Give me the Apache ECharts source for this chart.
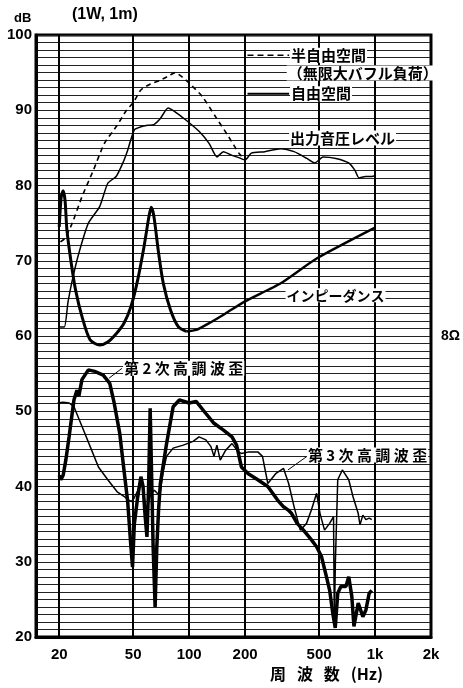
<!DOCTYPE html>
<html><head><meta charset="utf-8">
<script src="https://cdn.jsdelivr.net/npm/echarts@6/dist/echarts.min.js"></script>
<style>html,body{margin:0;padding:0;background:#fff}#c{width:463px;height:688px}</style>
</head><body><div id="c"></div>
<script>
// ---- tick labels ----
const xTickValues = [20, 50, 100, 200, 500, 1000, 2000];
const xTickLabels = {20:'20', 50:'50', 100:'100', 200:'200', 500:'500', 1000:'1k', 2000:'2k'};

// ---- series data [Hz, dB] ----
const halfSpace = [[20.3,72.5],[21.5,73],[23.5,75],[26.5,78.5],[30.5,82],[35,85.6],[41,88],[46,90],[50,91],[55,92.7],[62,93.5],[70,94],[78,94.6],[84,95],[92,94.4],[100,93.6],[118,91.8],[139,89.1],[163,86.5],[185,84.3],[200,83.4]];
const freeSpace = [[20,61.2],[21.3,61.2],[22.3,64.5],[23.5,67.4],[25.5,71],[28.7,75],[33,77.2],[36.5,80.3],[40.5,81.2],[44,83],[46.7,84.7],[50.7,87.4],[55,87.8],[60,88],[64.6,88.1],[70,88.9],[77,90.3],[84,89.8],[96,88.7],[113,87.2],[128,85.6],[141,83.8],[153,84.5],[170,84],[185,83.7],[200,83.4],[216,84.3],[255,84.5],[311,84.9],[367,84.5],[430,83.6],[475,83],[525,83.8],[616,83.6],[722,83],[780,82],[820,81],[890,81.2],[960,81.2],[1000,81.3]];
const impedanceLow = [[20,74.5],[20.5,78.5],[21,79.3],[21.5,78],[22,74.1],[23.2,69.7],[24.5,66.1],[26.5,62.6],[29.3,59.5],[33,58.8],[36.5,59.2],[40.5,60.3],[44.6,61.7],[48.6,63.9],[52.8,67.4],[57.2,71.9],[60.8,75.9],[62.5,77.1],[64.6,75.9],[68.5,71],[72.6,67],[79.3,63.5],[87.6,61.2],[96.4,60.6]];
const impedanceHigh = [[96.4,60.6],[109,60.8],[128,61.7],[157,63],[200,64.6],[311,67],[485,70.3],[1000,74.4]];
const harmonic2 = [[20,41.5],[20.4,40.9],[21,41.5],[21.7,43.5],[22.6,46.6],[24,51.5],[24.9,52.8],[25.5,52],[26.5,54.2],[28.7,55.5],[31,55.3],[34.5,54.8],[37.4,53.7],[39.5,51.1],[42.3,47.1],[44.6,42.2],[46.7,38],[48.6,32],[49.6,29.3],[50.7,35],[52.8,38.5],[55,41.3],[56.5,40],[58,36],[59.3,33.3],[60.5,40],[61.7,50.4],[62.5,44],[64,32],[65.6,24],[67,32],[68.5,37],[70,40.4],[75.6,45.7],[82,50.6],[88.6,51.5],[100,51.1],[109,51.3],[123,49.7],[136,48.4],[153,47.5],[170,46.6],[180,45.5],[191,42.6],[208,41.7],[234,40.9],[265,40],[299,38.2],[322,37.3],[340,36.9],[356,36.4],[381,35.1],[412,34.2],[455,32.9],[485,32],[515,30.7],[548,28],[570,26.2],[593,23.1],[611,21.2],[630,25.8],[655,26.7],[697,26.7],[722,28],[750,25.4],[770,21.4],[812,24.5],[860,22.7],[893,23.6],[930,25.8],[960,26.2]];
const harmonic3 = [[19.6,51.1],[21,51.2],[22.6,51.1],[24,50.6],[26.5,48],[29.8,44.9],[32.5,42.6],[36.5,40.9],[41,39.3],[44.6,38.7],[47,38.2],[49,38],[50.7,38.5],[53,39.5],[55,41],[56.5,39.5],[58.5,37],[60,37.5],[62,39],[65,39.5],[68,39],[70,39.3],[72.5,42],[75.6,44],[82,45.1],[93,45.5],[105,46],[113,46.6],[123,46.2],[131,45.3],[136,44],[141,45.5],[147,43.5],[157,44.8],[170,45.7],[184,44.6],[191,44.4],[210,44.6],[234,44.6],[248,44],[265,40.4],[292,41.7],[322,42.4],[343,40.4],[367,37.3],[396,34.2],[428,35.1],[455,36.9],[485,39.1],[506,36.4],[535,34.2],[570,35.1],[598,36],[604,22],[612,30],[630,40.9],[667,42.2],[722,40.9],[760,38.7],[812,36.4],[830,34.9],[860,36.2],[893,35.6],[930,35.8],[960,35.6]];

const numFont = 'Liberation Sans';
const jpFont = '"Noto Sans CJK JP"';

const option = {
  animation: false,
  backgroundColor: '#fff',
  grid: {left: 36, right: 27, top: 35, bottom: 51, show: true, borderColor: '#000', borderWidth: 3},
  xAxis: {
    type: 'log', logBase: 10, min: 15, max: 2000,
    axisLine: {show: true, lineStyle: {color: '#000', width: 3}},
    axisTick: {show: false, customValues: xTickValues},
    axisLabel: {customValues: xTickValues, formatter: v => xTickLabels[Math.round(v)] || '', color: '#000', fontFamily: numFont, fontSize: 15, fontWeight: 'bold', margin: 10},
    splitLine: {show: true, lineStyle: {color: '#000', width: 2}}
  },
  yAxis: [{
    type: 'value', min: 20, max: 100, interval: 1,
    axisLine: {show: true, lineStyle: {color: '#000', width: 3}},
    axisTick: {show: false},
    axisLabel: {formatter: v => (v % 10 === 0 ? String(v) : ''), color: '#000', fontFamily: numFont, fontSize: 15, fontWeight: 'bold', margin: 4},
    splitLine: {show: true, lineStyle: {color: '#222', width: 1}}
  }, {
    type: 'value', min: 20, max: 100, interval: 10, position: 'right',
    axisLine: {show: false}, axisTick: {show: false}, splitLine: {show: false},
    axisLabel: {formatter: v => (v === 60 ? '8Ω' : ''), color: '#000', fontFamily: numFont, fontSize: 14, fontWeight: 'bold', margin: 10}
  }],
  series: [
    {name: '半自由空間', type: 'line', data: halfSpace, showSymbol: false, smooth: 0.2, lineStyle: {color: '#000', width: 1.6, type: [5, 4]}},
    {name: '自由空間', type: 'line', data: freeSpace, showSymbol: false, smooth: 0.2, lineStyle: {color: '#000', width: 1.5}},
    {name: 'インピーダンス', type: 'line', data: impedanceLow, showSymbol: false, smooth: 0.25, lineStyle: {color: '#000', width: 3}},
    {name: 'インピーダンス(高域)', type: 'line', data: impedanceHigh, showSymbol: false, smooth: 0.2, lineStyle: {color: '#000', width: 2.4}},
    {name: '第2次高調波歪', type: 'line', data: harmonic2, showSymbol: false, lineStyle: {color: '#000', width: 3.5}},
    {name: '第3次高調波歪', type: 'line', data: harmonic3, showSymbol: false, lineStyle: {color: '#000', width: 1.5}}
  ]
};

const chart = echarts.init(document.getElementById('c'));
chart.setOption(option);

// ---- annotations (anchored in data coordinates) ----
const P = (f, d) => chart.convertToPixel({xAxisIndex: 0, yAxisIndex: 0}, [f, d]);
function label(text, f, d, size) {
  const p = P(f, d);
  return {type: 'text', x: p[0], y: p[1], z: 100, style: {text, font: 'bold ' + (size || 15) + 'px ' + jpFont, fill: '#000', backgroundColor: '#fff', padding: [0, 1], verticalAlign: 'middle', align: 'left'}};
}
function seg(f1, d1, f2, d2, w, dash) {
  const a = P(f1, d1), b = P(f2, d2);
  return {type: 'line', z: 100, shape: {x1: a[0], y1: a[1], x2: b[0], y2: b[1]}, style: {stroke: '#000', lineWidth: w, lineDash: dash || null}};
}
const graphics = [
  seg(206, 97.3, 345, 97.3, 1.6, [6, 4]),
  label('半自由空間', 349, 97.3, 15),
  label('（無限大バフル負荷）', 335, 94.95, 15),
  seg(206, 92.2, 345, 92.2, 2),
  label('自由空間', 349, 92.2, 15),
  label('出力音圧レベル', 345, 86.3, 15),
  label('インピーダンス', 330, 65.4, 14),
  seg(37.1, 54.4, 43.5, 55.7, 1),
  label('第 2 次 高 調 波 歪', 44.1, 55.7, 15),
  seg(340, 42.2, 430, 44.0, 1),
  label('第 3 次 高 調 波 歪', 430, 44.2, 15),
  {type: 'text', left: 14, top: 12, style: {text: 'dB', font: 'bold 13px ' + numFont, fill: '#000'}},
  {type: 'text', left: 72, top: 7, style: {text: '(1W, 1m)', font: 'bold 16px ' + numFont, fill: '#000'}},
  {type: 'text', left: 270, top: 666, style: {text: '周   波   数   (Hz)', font: 'bold 16px ' + jpFont, fill: '#000'}}
];
chart.setOption({graphic: graphics});
</script>
</body></html>
